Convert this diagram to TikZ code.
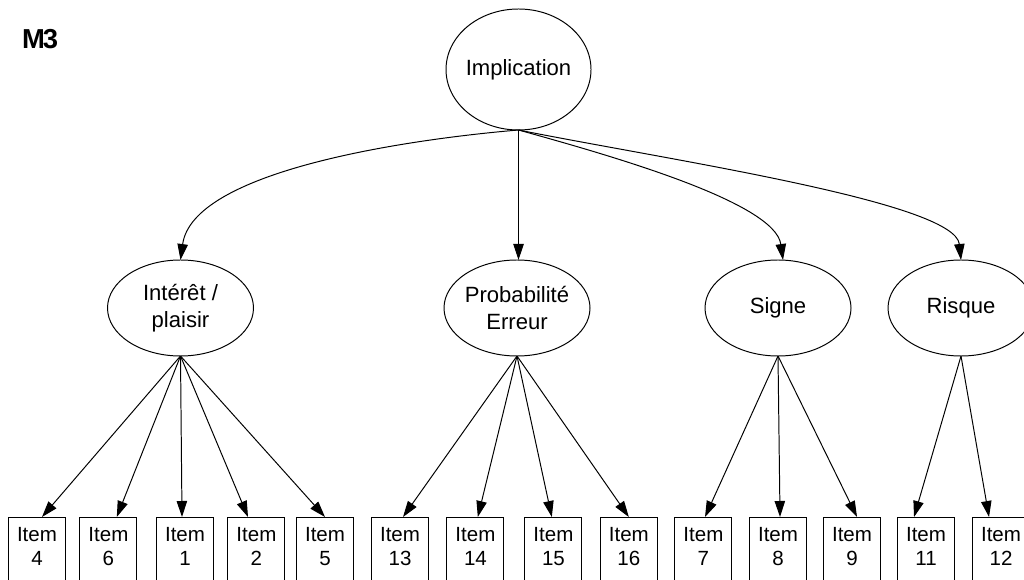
\documentclass[tikz,border=0pt]{standalone}
\usepackage{fontspec}
\setmainfont{Liberation Sans}
\usetikzlibrary{positioning,shapes.geometric,arrows.meta}

\begin{document}
\begin{tikzpicture}[x=0.25mm,y=-0.25mm]
    \tikzset{latent/.style={
        draw, ellipse, line width=0.7pt, inner xsep=-4pt, inner ysep=0pt, outer sep=0pt,
        minimum width=36.5mm, minimum height=24mm, align=center, font=\fontsize{15.7}{19}\selectfont
      },
      itembox/.style={
        draw, rectangle, line width=0.7pt, outer sep=0pt, minimum width=14.25mm,
        inner ysep=7.6pt, align=center, font=\fontsize{14.6}{17}\selectfont
      },
      effect/.style={line width=0.7pt, -{Triangle[length=4mm,width=2.6mm]}}
    }

    \useasboundingbox (0,0) rectangle (1024,580);

    \node[font=\fontsize{19.5}{20}\selectfont\bfseries] (title) at (40,39) {M\kern-1.5pt3};

    \node[latent, minimum width=36.25mm, minimum height=30.25mm] (imp) at (518.5,69.5) {Implication};

    \node[latent] (ip) at (180.5,308) {Intérêt /\\plaisir};
    \node[latent] (pe) at (517,308) {Probabilité\\Erreur};
    \node[latent] (si) at (778,308) {Signe};
    \node[latent] (ri) at (961,308) {Risque};

    \node[itembox, anchor=north] (b4) at (37,517) {Item\\4\rule[-8pt]{0pt}{0pt}};
    \node[itembox, right=3.6mm of b4] (b6) {Item\\6\rule[-8pt]{0pt}{0pt}};
    \node[itembox, right=4.9mm of b6] (b1) {Item\\1\rule[-8pt]{0pt}{0pt}};
    \node[itembox, right=3.6mm of b1] (b2) {Item\\2\rule[-8pt]{0pt}{0pt}};
    \node[itembox, right=2.9mm of b2] (b5) {Item\\5\rule[-8pt]{0pt}{0pt}};
    \node[itembox, right=4.5mm of b5] (b13) {Item\\13\rule[-8pt]{0pt}{0pt}};
    \node[itembox, right=4.6mm of b13] (b14) {Item\\14\rule[-8pt]{0pt}{0pt}};
    \node[itembox, right=5.25mm of b14] (b15) {Item\\15\rule[-8pt]{0pt}{0pt}};
    \node[itembox, right=4.6mm of b15] (b16) {Item\\16\rule[-8pt]{0pt}{0pt}};
    \node[itembox, right=4.4mm of b16] (b7) {Item\\7\rule[-8pt]{0pt}{0pt}};
    \node[itembox, right=4.4mm of b7] (b8) {Item\\8\rule[-8pt]{0pt}{0pt}};
    \node[itembox, right=4.25mm of b8] (b9) {Item\\9\rule[-8pt]{0pt}{0pt}};
    \node[itembox, right=4.25mm of b9] (b11) {Item\\11\rule[-8pt]{0pt}{0pt}};
    \node[itembox, right=4.5mm of b11] (b12) {Item\\12\rule[-8pt]{0pt}{0pt}};

    % second order factor
    \draw[effect] (imp.south) .. controls +(-118,10) and +(12,-88) .. (ip.north);
    \draw[effect] (imp.south) -- (imp.south |- pe.north);
    \draw[effect] (imp.south) .. controls +(90,25) and +(-8,-58) .. ([xshift=1.25mm]si.north);
    \draw[effect] (imp.south) .. controls +(150,30) and +(-6,-58) .. (ri.north);

    % items
    \draw[effect] (ip.south) -- ([xshift=1.25mm]b4.north);
    \draw[effect] (ip.south) -- ([xshift=2.1mm]b6.north);
    \draw[effect] (ip.south) -- ([xshift=-0.75mm]b1.north);
    \draw[effect] (ip.south) -- ([xshift=-2.1mm]b2.north);
    \draw[effect] (ip.south) -- (b5.north);

    \draw[effect] (pe.south) -- ([xshift=0.75mm]b13.north);
    \draw[effect] (pe.south) -- ([xshift=0.6mm]b14.north);
    \draw[effect] (pe.south) -- ([xshift=-0.4mm]b15.north);
    \draw[effect] (pe.south) -- (b16.north);

    \draw[effect] (si.south) -- ([xshift=0.4mm]b7.north);
    \draw[effect] (si.south) -- ([xshift=0.5mm]b8.north);
    \draw[effect] (si.south) -- ([xshift=1.25mm]b9.north);

    \draw[effect] (ri.south) -- ([xshift=-3mm]b11.north);
    \draw[effect] (ri.south) -- ([xshift=-3mm]b12.north);

\end{tikzpicture}
\end{document}
